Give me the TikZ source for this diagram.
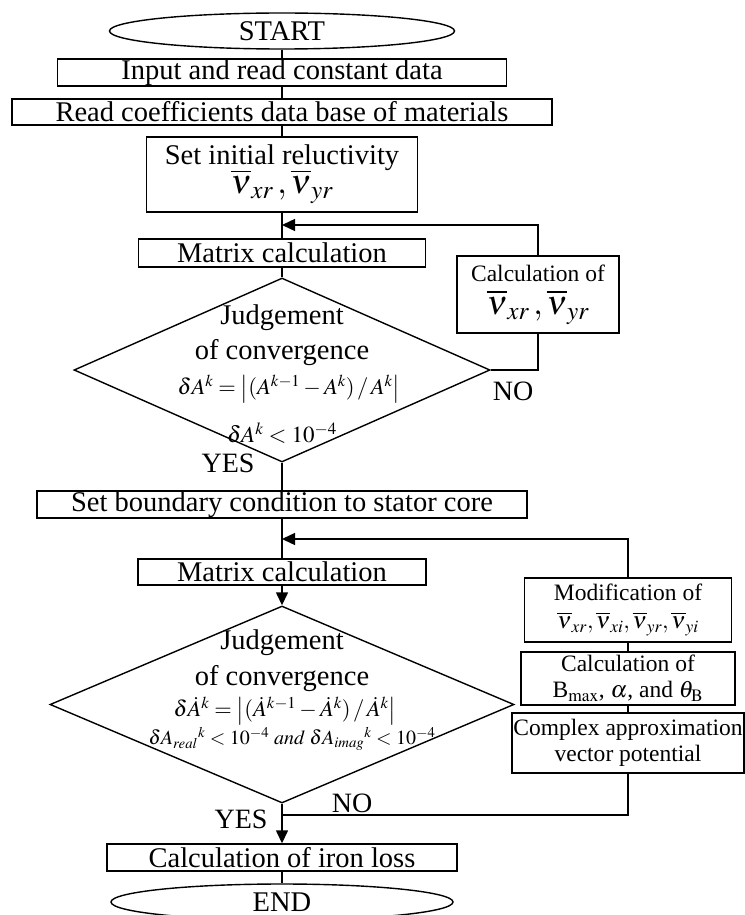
\documentclass[tikz,border=0pt]{standalone}
\usepackage{mathptmx}
\usepackage[no-math]{fontspec}
\setmainfont{Liberation Serif}
\usetikzlibrary{shapes.geometric, arrows.meta, positioning}

\newcommand{\nubig}[1]{{\fontsize{34}{34}\selectfont$#1$}}

\begin{document}
\begin{tikzpicture}[x=1pt, y=-1pt,
  box/.style={draw, line width=1.4pt, inner sep=0pt, align=center, font=\fontsize{28.5}{31}\selectfont},
  term/.style={draw, ellipse, line width=1.4pt, inner sep=0pt, font=\fontsize{28.5}{31}\selectfont},
  decide/.style={draw, diamond, line width=1.4pt, inner sep=0pt},
  side/.style={draw, line width=1.4pt, inner sep=0pt, align=center, font=\fontsize{23.5}{26}\selectfont},
  lbl/.style={inner sep=0pt, font=\fontsize{28}{30}\selectfont},
  flow/.style={line width=1.4pt},
  arr/.style={line width=1.4pt, -{Triangle[length=13pt, width=12pt]}}]
  \useasboundingbox (0,0) rectangle (744,915);

  % Main column
  \node[term, minimum width=345pt, minimum height=36pt] (start) at (282,31) {START};
  \node[box, minimum width=449pt, minimum height=27pt] (input) at (282,72.5) {Input and read constant data};
  \node[box, minimum width=540pt, minimum height=26pt] (coef) at (282,112) {Read coefficients data base of materials};
  \node[box, minimum width=271pt, minimum height=75pt] (initnu) at (282,174.5)
    {Set initial reluctivity\\[-2pt] \nubig{\overline{\nu}_{xr}\,,\overline{\nu}_{yr}}};
  \node[box, minimum width=287pt, minimum height=28pt] (matA) at (282,253) {Matrix calculation};

  % First convergence check
  \node[decide, minimum width=416pt, minimum height=184pt] (judA) at (282,370) {};
  \node[align=center, inner sep=0pt, font=\fontsize{28.5}{35}\selectfont] (judAtitle) at (282,335) {Judgement\\of convergence};
  \node[inner sep=0pt, font=\fontsize{22.5}{26}\selectfont] (judAeq) at (289,389)
    {$\delta A^k = \left|(A^{k-1}-A^k)\,/\,A^k\right|$};
  \node[inner sep=0pt, font=\fontsize{23}{26}\selectfont] (judAcond) at (282,433) {$\delta A^k < 10^{-4}$};

  \node[side, minimum width=162pt, minimum height=77pt] (calcnu) at (538,294.5)
    {Calculation of\\[7pt] \nubig{\overline{\nu}_{xr}\,,\overline{\nu}_{yr}}};
  \node[lbl] (noA) at (513,391) {NO};
  \node[lbl] (yesA) at (228,463) {YES};

  \coordinate (backA) at (282,225);
  \draw[flow] (start) -- (input);
  \draw[flow] (input) -- (coef);
  \draw[flow] (coef) -- (initnu);
  \draw[flow] (initnu) -- (matA);
  \draw[flow] (matA) -- (judA.north);
  \draw[arr] (calcnu.north) |- (backA);
  \draw[flow] (calcnu.south) |- (judA.east);

  % Second stage
  \node[box, minimum width=490pt, minimum height=27pt] (bound) at (282,504.5) {Set boundary condition to stator core};
  \node[box, minimum width=288pt, minimum height=26pt] (matB) at (282,572) {Matrix calculation};
  \node[decide, minimum width=464pt, minimum height=197pt] (judB) at (282,704.5) {};
  \node[align=center, inner sep=0pt, font=\fontsize{28.5}{36}\selectfont] (judBtitle) at (282,661) {Judgement\\of convergence};
  \node[inner sep=0pt, font=\fontsize{22.5}{26}\selectfont] (judBeq) at (285,711)
    {$\delta\dot{A}^k = \left|(\dot{A}^{k-1}-\dot{A}^k)\,/\,\dot{A}^k\right|$};
  \node[inner sep=0pt, font=\fontsize{20}{22}\selectfont] (judBcond) at (292,739)
    {$\delta A_{real}{}^{k} < 10^{-4}\ \mathit{and}\ \delta A_{imag}{}^{k} < 10^{-4}$};

  \node[side, minimum width=207pt, minimum height=64pt] (modif) at (628,610)
    {Modification of\\[2pt] $\overline{\nu}_{xr},\overline{\nu}_{xi},\overline{\nu}_{yr},\overline{\nu}_{yi}$};
  \node[side, minimum width=214pt, minimum height=53pt] (calcB) at (628,678.5)
    {Calculation of\\ B$_{\max}$, $\alpha$, and $\theta_{\mathrm{B}}$};
  \node[side, minimum width=232pt, minimum height=60pt] (cplx) at (628,743)
    {Complex approximation\\ vector potential};

  \node[lbl] (noB) at (352,803) {NO};
  \node[lbl] (yesB) at (241,819) {YES};

  \node[box, minimum width=350pt, minimum height=27pt] (iron) at (282,857.5) {Calculation of iron loss};
  \node[term, minimum width=342pt, minimum height=36pt] (end) at (282,902) {END};

  \coordinate (backB) at (282,539);
  \coordinate (joinB) at (282,815);
  \draw[flow] (judA.south) -- (bound);
  \draw[flow] (bound) -- (matB);
  \draw[arr] (matB) -- (judB.north);
  \draw[arr] (modif.north) |- (backB);
  \draw[flow] (modif) -- (calcB);
  \draw[flow] (calcB) -- (cplx);
  \draw[flow] (cplx.south) |- (joinB);
  \draw[arr] (judB.south) -- (iron);
  \draw[flow] (iron) -- (end);
\end{tikzpicture}
\end{document}
